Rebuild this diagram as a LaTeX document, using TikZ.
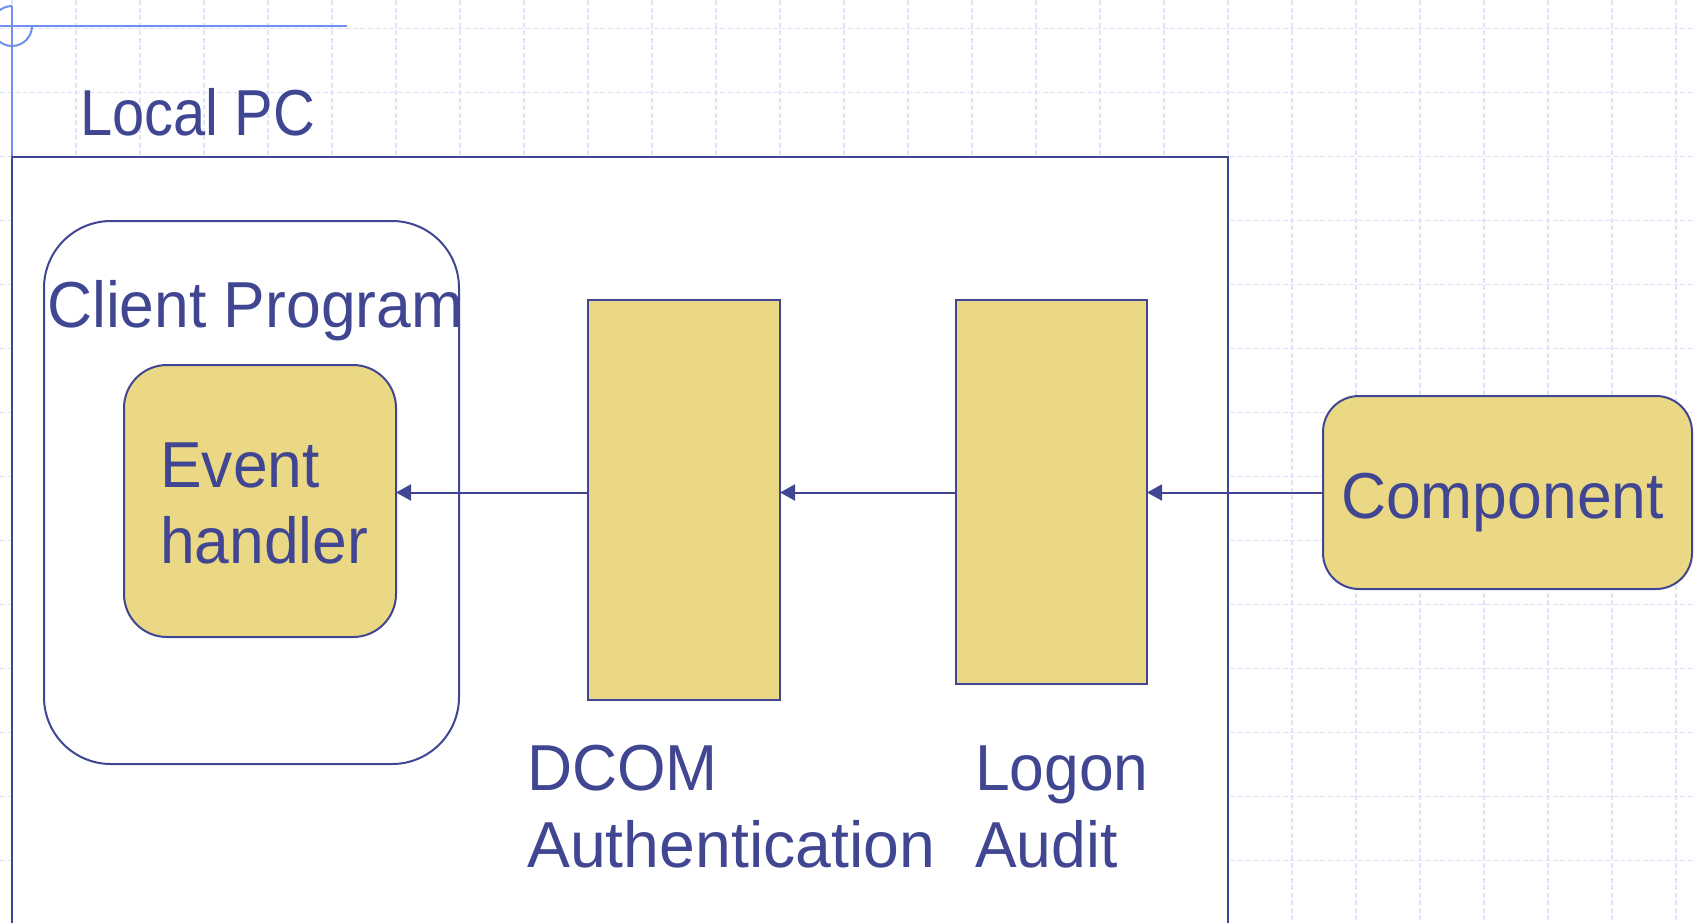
\documentclass[tikz,border=0pt]{standalone}
\usepackage{fontspec}
\setmainfont{Liberation Sans}
\newfontfamily\lblfont[FakeStretch=0.96]{Liberation Sans}
\newfontfamily\lblwidefont[FakeStretch=0.99]{Liberation Sans}
\newfontfamily\lblnarrowfont[FakeStretch=0.89]{Liberation Sans}
\usetikzlibrary{arrows.meta}
\definecolor{ink}{HTML}{404691}
\definecolor{pad}{HTML}{EBD884}
\definecolor{guide}{HTML}{7090F0}
\definecolor{gridc}{HTML}{DDE4FA}

\begin{document}
\begin{tikzpicture}[x=1pt,y=-1pt,
  lbl/.style={font=\lblfont\fontsize{65}{76}\selectfont, text=ink, inner sep=0pt, anchor=base west},
  lblwide/.style={lbl, font=\lblwidefont\fontsize{65}{76}\selectfont},
  lblnarrow/.style={lbl, font=\lblnarrowfont\fontsize{65}{76}\selectfont},
  frame/.style={draw=ink, line width=2pt, inner sep=0pt, outer sep=0pt},
  block/.style={frame, fill=pad},
  link/.style={draw=ink, line width=2pt, -{Triangle[length=15pt,width=16pt]}},
  gridline/.style={draw=gridc, line width=1.3pt, dash pattern=on 5pt off 2.5pt},
  guideline/.style={draw=guide, line width=2pt}]
\useasboundingbox (0,0) rectangle (1694,922);
\clip (0,0) rectangle (1694,922);
\fill[white] (0,0) rectangle (1694,922);

% background grid
\foreach \k in {0,...,26}
  \draw[gridline] ({12+64*\k},0) -- ({12+64*\k},922);
\foreach \k in {0,...,14}
  \draw[gridline] (0,{28.5+64*\k}) -- (1694,{28.5+64*\k});

% corner guide mark
\draw[guideline] (0,26) -- (347,26);
\draw[guideline] (12,6) -- (12,157);
\draw[guideline] (32,26) arc[start angle=0, end angle=270, radius=20];

% containers
\node[frame, fill=white, minimum width=1216pt, minimum height=800pt] (localpc) at (620,557) {};
\node[frame, fill=white, rounded corners=67pt, minimum width=415pt, minimum height=543pt] (client) at (251.5,492.5) {};

% blocks
\node[block, rounded corners=43pt, minimum width=272pt, minimum height=272pt] (event) at (260,501) {};
\node[block, minimum width=192pt, minimum height=400pt] (dcom) at (684,500) {};
\node[block, minimum width=191pt, minimum height=384pt] (logon) at (1051.5,492) {};
\node[block, rounded corners=36pt, minimum width=369pt, minimum height=193pt] (comp) at (1507.5,492.5) {};

% connectors
\draw[link] (comp.west) -- (comp.west -| logon.east);
\draw[link] (logon.west |- comp.west) -- (comp.west -| dcom.east);
\draw[link] (dcom.west |- comp.west) -- (comp.west -| event.east);

% labels
\node[lblnarrow] (tpc) at (80,135) {Local PC};
\node[lbl] (tclient) at (47,327) {Client Program};
\node[lbl] (tevent) at (160,487) {Event};
\node[lbl] (thandler) at (160,563) {handler};
\node[lbl] (tdcom) at (527,790) {DCOM};
\node[lblwide] (tauth) at (527,867) {Authentication};
\node[lbl] (tlogon) at (975,790) {Logon};
\node[lbl] (taudit) at (975,867) {Audit};
\node[lbl] (tcomp) at (1341,518) {Component};
\end{tikzpicture}
\end{document}
